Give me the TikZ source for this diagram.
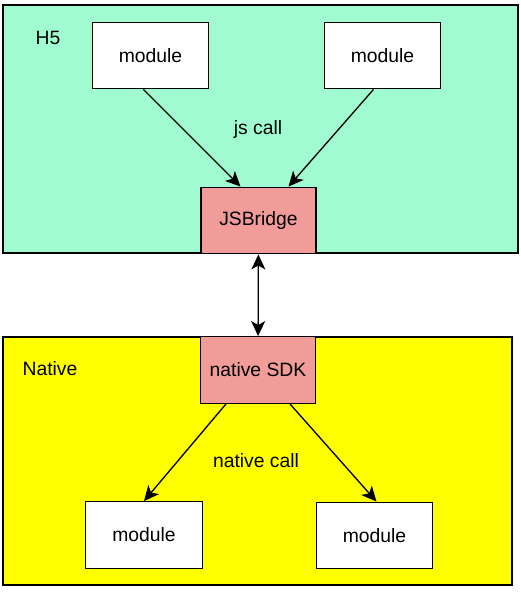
\documentclass[tikz,border=0pt]{standalone}
\usepackage{fontspec}
\setmainfont{Liberation Sans}
\usetikzlibrary{arrows.meta, calc}

\definecolor{hfivegreen}{RGB}{160,252,208}
\definecolor{bridgered}{RGB}{241,156,153}
\definecolor{nativeyellow}{RGB}{255,255,0}

\begin{document}
\begin{tikzpicture}[x=0.02cm, y=-0.02cm,
    font=\fontsize{11}{13}\selectfont,
    panel/.style={draw, line width=0.8pt, inner sep=0pt, minimum height=4.96cm},
    box node/.style={draw, line width=0.8pt, fill=white, inner sep=0pt, minimum width=2.33cm, minimum height=1.33cm},
    bridge node/.style={box node, fill=bridgered, minimum width=2.3cm},
    arr/.style={-{Stealth[length=3mm, width=2.8mm, inset=0.8mm]}, line width=0.75pt},
    darr/.style={{Stealth[length=3mm, width=2.8mm, inset=0.8mm]}-{Stealth[length=3mm, width=2.8mm, inset=0.8mm]}, line width=0.75pt}]
    \useasboundingbox (0,0) rectangle (521,593);

    % panels
    \node[panel, fill=hfivegreen, minimum width=10.3cm] (h5) at (260.5,129) {};
    \node[panel, fill=nativeyellow, minimum width=10.18cm] (native) at (257.5,461) {};
    \node (h5label) at (48,38) {H5};
    \node (nativelabel) at (50,369) {Native};

    % H5 side
    \node[box node] (h5left) at (150.5,55.5) {module};
    \node[box node] (h5right) at (382.5,55.5) {module};
    \node[bridge node] (bridge) at (258.5,220.5) {JSBridge};
    \node (jscall) at (258,129) {js call};

    % native side
    \node[bridge node] (sdk) at (258,370) {native SDK};
    \node[box node] (nativeleft) at (144,535) {module};
    \node[box node] (nativeright) at (374.5,535.5) {module};
    \node (nativecall) at (256,461) {native call};

    \draw[arr] ($(h5left.south)+(-7,0)$) -- ($(bridge.north)+(-18,0)$);
    \draw[arr] ($(h5right.south)+(-9,0)$) -- ($(bridge.north)+(30,0)$);
    \draw[darr] (bridge) -- (sdk);
    \draw[arr] ($(sdk.south)+(-32,0)$) -- (nativeleft.north);
    \draw[arr] ($(sdk.south)+(32,0)$) -- ($(nativeright.north)+(2,0)$);
\end{tikzpicture}
\end{document}
